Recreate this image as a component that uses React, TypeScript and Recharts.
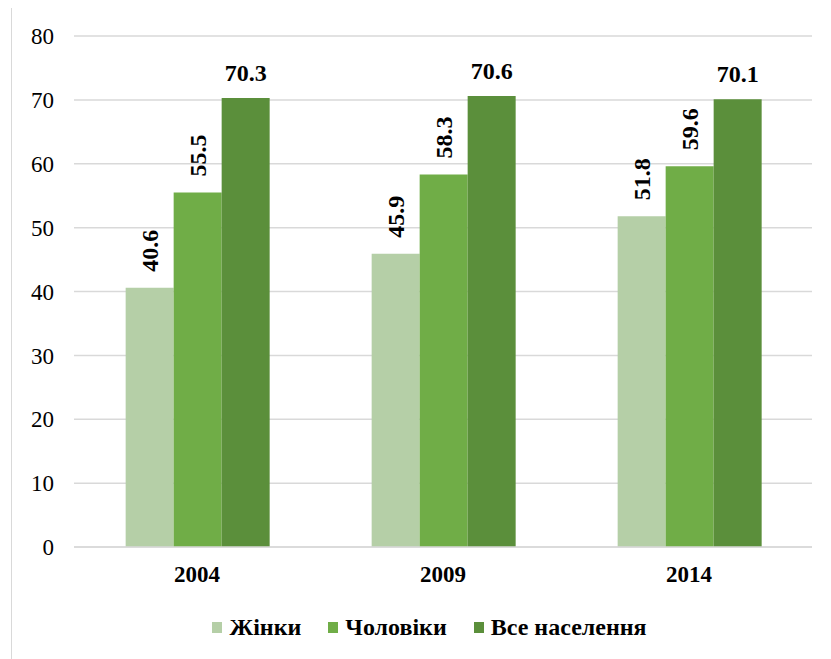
import React from 'react';
import { BarChart, Bar, XAxis, YAxis, CartesianGrid, Legend, LabelList } from 'recharts';

const years = ['2004', '2009', '2014'];
const women = [40.6, 45.9, 51.8];
const men = [55.5, 58.3, 59.6];
const total = [70.3, 70.6, 70.1];
const yTicks = [0, 10, 20, 30, 40, 50, 60, 70, 80];

const seriesNames = ['Жінки', 'Чоловіки', 'Все населення'];
const seriesColors = ['#b5cfa7', '#70ad47', '#5b8f3b'];

const data = years.map((year, i) => ({
  year,
  women: women[i],
  men: men[i],
  total: total[i],
}));

const FONT = 'Liberation Serif, Tinos, DejaVu Serif, serif';

// vertical value labels for the first two series
const RotatedLabel = (props: any) => {
  const { x, y, width, value } = props;
  const cx = x + width / 2;
  const ty = y - 16;
  return (
    <text
      x={cx}
      y={ty}
      transform={`rotate(-90, ${cx}, ${ty})`}
      textAnchor="start"
      dominantBaseline="central"
      style={{ fontFamily: FONT, fontSize: 24, fontWeight: 'bold' }}
      fill="#000"
    >
      {value.toFixed(1)}
    </text>
  );
};

const FlatLabel = (props: any) => {
  const { x, y, width, value } = props;
  return (
    <text
      x={x + width / 2}
      y={y - 17}
      textAnchor="middle"
      style={{ fontFamily: FONT, fontSize: 24, fontWeight: 'bold' }}
      fill="#000"
    >
      {value.toFixed(1)}
    </text>
  );
};

const LegendContent = () => (
  <div
    style={{
      height: 30,
      display: 'flex',
      justifyContent: 'center',
      alignItems: 'center',
      paddingLeft: 35,
      fontFamily: FONT,
      fontSize: 24,
      fontWeight: 'bold',
      color: '#000',
    }}
  >
    {seriesNames.map((name, i) => (
      <div key={name} style={{ display: 'flex', alignItems: 'center', marginRight: i < 2 ? 27 : 0 }}>
        <span style={{ width: 10, height: 11, background: seriesColors[i], display: 'inline-block', marginRight: 7 }} />
        <span>{name}</span>
      </div>
    ))}
  </div>
);

export default function App() {
  return (
    <div
      style={{
        marginLeft: 3,
        marginTop: -1,
        borderTop: '1px solid #d9d9d9',
        borderLeft: '1px solid #d9d9d9',
        width: 819,
        height: 651,
        background: '#fff',
        fontFamily: FONT,
      }}
    >
      <BarChart
        width={819}
        height={651}
        data={data}
        margin={{ top: 28, right: 19, left: 0, bottom: 17 }}
        barCategoryGap="21%"
        barGap={0}
        style={{ fontFamily: FONT }}
      >
        <CartesianGrid vertical={false} stroke="#d9d9d9" strokeWidth={1.5} />
        <XAxis
          dataKey="year"
          height={65}
          axisLine={{ stroke: '#d9d9d9', strokeWidth: 1.5 }}
          tickLine={false}
          tickSize={6}
          tickMargin={13}
          tick={{ fill: '#000', fontSize: 23, fontWeight: 'bold', fontFamily: FONT }}
        />
        <YAxis
          width={62}
          domain={[0, 80]}
          ticks={yTicks}
          axisLine={false}
          tickLine={false}
          tickSize={6}
          tickMargin={14}
          tick={{ fill: '#000', fontSize: 23, fontFamily: FONT }}
        />
        <Legend verticalAlign="bottom" content={<LegendContent />} />
        <Bar dataKey="women" name={seriesNames[0]} fill={seriesColors[0]} isAnimationActive={false}>
          <LabelList dataKey="women" content={<RotatedLabel />} />
        </Bar>
        <Bar dataKey="men" name={seriesNames[1]} fill={seriesColors[1]} isAnimationActive={false}>
          <LabelList dataKey="men" content={<RotatedLabel />} />
        </Bar>
        <Bar dataKey="total" name={seriesNames[2]} fill={seriesColors[2]} isAnimationActive={false}>
          <LabelList dataKey="total" content={<FlatLabel />} />
        </Bar>
      </BarChart>
    </div>
  );
}
